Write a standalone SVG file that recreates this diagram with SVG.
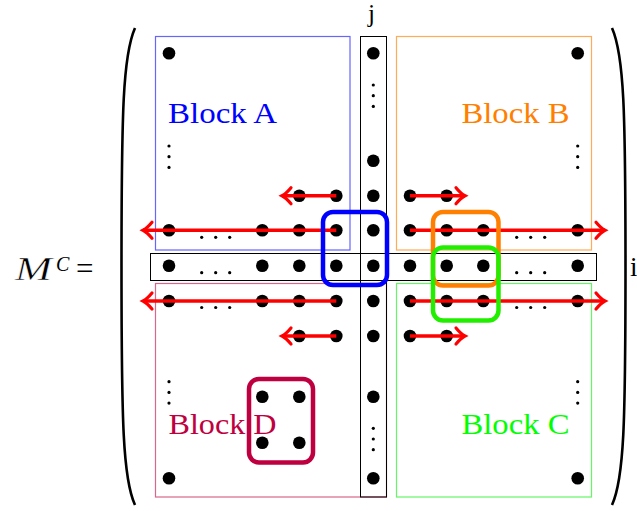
<svg xmlns="http://www.w3.org/2000/svg" width="637" height="511" viewBox="0 0 637 511">
<style>
.lbl{font-family:"Liberation Serif",serif;font-size:30px}
.m{font-family:"Liberation Serif",serif;font-style:italic}
.blk{fill:none;stroke-width:1.2}
.frame{fill:none;stroke:#000;stroke-width:1}
.dot{fill:#000}
.sel{fill:none;stroke-width:4.5}
.arr{stroke:#ff0000;stroke-width:3.4;fill:none;marker-end:url(#ah)}
.par{fill:none;stroke:#000;stroke-width:2.6}
</style>
<defs>
<marker id="ah" markerUnits="userSpaceOnUse" markerWidth="20" markerHeight="24" refX="2" refY="10" orient="auto" viewBox="-14 0 20 20">
<path d="M -7 2 Q -2 8 2 10 Q -2 12 -7 18" fill="none" stroke="#ff0000" stroke-width="3.2" stroke-linecap="round"/>
</marker>
<circle id="d" r="6.3"/>
<g id="ld"><circle cx="0" r="1.6"/><circle cx="14" r="1.6"/><circle cx="28" r="1.6"/></g>
<g id="vd"><circle cy="0" r="1.6"/><circle cy="10.7" r="1.6"/><circle cy="21.4" r="1.6"/></g>
</defs>
<rect width="637" height="511" fill="#fff"/>

<g id="math">
<text class="m" x="15" y="280" font-size="33" textLength="37" lengthAdjust="spacingAndGlyphs" stroke="#fff" stroke-width="0.45">M</text>
<text class="m" x="56" y="271" font-size="20">C</text>
<text x="76" y="279" font-family="Liberation Serif,serif" font-size="31">=</text>
</g>
<g id="parens">
<path class="par" d="M 135 28 C 123 55 121.5 110 121.5 267 C 121.5 424 123 479 135 505"/>
<path class="par" d="M 612 28 C 624 55 625.5 110 625.5 267 C 625.5 424 624 479 612 505"/>
</g>

<g id="blockA">
<rect class="blk" x="155.5" y="36.5" width="194.5" height="213.5" stroke="#0000ff" stroke-opacity="0.6"/>
<text class="lbl" x="168" y="123" fill="#0000ff" textLength="109" lengthAdjust="spacingAndGlyphs">Block A</text>
</g>
<g id="blockB">
<rect class="blk" x="396.5" y="36.5" width="195" height="213.5" stroke="#ff8000" stroke-opacity="0.65"/>
<text class="lbl" x="461.5" y="123" fill="#ff8000" textLength="108" lengthAdjust="spacingAndGlyphs">Block B</text>
</g>
<g id="blockC">
<rect class="blk" x="396.5" y="283.5" width="195" height="213.5" stroke="#00ee00" stroke-opacity="0.6"/>
<text class="lbl" x="461.5" y="434" fill="#00ff00" textLength="108" lengthAdjust="spacingAndGlyphs">Block C</text>
</g>
<g id="blockD">
<rect class="blk" x="155.5" y="283.5" width="231" height="213.5" stroke="#bf0040" stroke-opacity="0.6"/>
<text class="lbl" x="168.5" y="434" fill="#bf0040" textLength="108" lengthAdjust="spacingAndGlyphs">Block D</text>
</g>
<g id="colJ">
<rect class="frame" x="360.5" y="36.5" width="26" height="460.5"/>
<text x="368" y="22" font-family="Liberation Serif,serif" font-size="25">j</text>
</g>
<g id="rowI">
<rect class="frame" x="150.5" y="253.5" width="446" height="27"/>
<text x="630" y="276" font-family="Liberation Serif,serif" font-size="27">i</text>
</g>

<g id="dots" class="dot">
<use href="#d" x="169" y="53.3"/><use href="#d" x="373.3" y="53.3"/><use href="#d" x="577.7" y="53.3"/>
<use href="#vd" x="373.3" y="85"/>
<use href="#vd" x="169" y="146"/>
<use href="#vd" x="577.7" y="146"/>
<use href="#d" x="373.3" y="160.7"/>
<use href="#d" x="299.3" y="195.7"/><use href="#d" x="336.3" y="195.7"/><use href="#d" x="373.3" y="195.7"/><use href="#d" x="410" y="195.7"/><use href="#d" x="446.7" y="195.7"/>
<use href="#d" x="169" y="230.3"/><use href="#d" x="262.3" y="230.3"/><use href="#d" x="299.3" y="230.3"/><use href="#d" x="336.3" y="230.3"/><use href="#d" x="373.3" y="230.3"/><use href="#d" x="410" y="230.3"/><use href="#d" x="446.7" y="230.3"/><use href="#d" x="483.3" y="230.3"/><use href="#d" x="577.7" y="230.3"/>
<use href="#ld" x="201.7" y="237.3"/><use href="#ld" x="516.7" y="237.3"/>
<use href="#d" x="169" y="265.7"/><use href="#d" x="262.3" y="265.7"/><use href="#d" x="299.3" y="265.7"/><use href="#d" x="336.3" y="265.7"/><use href="#d" x="373.3" y="265.7"/><use href="#d" x="410" y="265.7"/><use href="#d" x="446.7" y="265.7"/><use href="#d" x="483.3" y="265.7"/><use href="#d" x="577.7" y="265.7"/>
<use href="#ld" x="201.7" y="272.7"/><use href="#ld" x="516.7" y="272.7"/>
<use href="#d" x="169" y="301"/><use href="#d" x="262.3" y="301"/><use href="#d" x="299.3" y="301"/><use href="#d" x="336.3" y="301"/><use href="#d" x="373.3" y="301"/><use href="#d" x="410" y="301"/><use href="#d" x="446.7" y="301"/><use href="#d" x="483.3" y="301"/><use href="#d" x="577.7" y="301"/>
<use href="#ld" x="201.7" y="307.5"/><use href="#ld" x="516.7" y="307.5"/>
<use href="#d" x="299.3" y="336"/><use href="#d" x="336.3" y="336"/><use href="#d" x="373.3" y="336"/><use href="#d" x="410" y="336"/><use href="#d" x="446.7" y="336"/>
<use href="#vd" x="169" y="381.7"/>
<use href="#vd" x="577.7" y="381.7"/>
<use href="#d" x="262.3" y="396.7"/><use href="#d" x="299.3" y="396.7"/><use href="#d" x="373.3" y="396.7"/>
<use href="#vd" x="373.3" y="428.3"/>
<use href="#d" x="262.3" y="442.7"/><use href="#d" x="299.3" y="442.7"/>
<use href="#d" x="169" y="478.3"/><use href="#d" x="373.3" y="478.3"/><use href="#d" x="577.7" y="478.3"/>
</g>

<g id="connectors">
<line class="arr" x1="336.3" y1="195.7" x2="282" y2="195.7"/>
<line class="arr" x1="410" y1="195.7" x2="465" y2="195.7"/>
<line class="arr" x1="336.3" y1="230.3" x2="143" y2="230.3"/>
<line class="arr" x1="410" y1="230.3" x2="605" y2="230.3"/>
<line class="arr" x1="336.3" y1="301" x2="143" y2="301"/>
<line class="arr" x1="410" y1="301" x2="605" y2="301"/>
<line class="arr" x1="336.3" y1="336" x2="282" y2="336"/>
<line class="arr" x1="410" y1="336" x2="465" y2="336"/>
</g>

<g id="selBlue"><rect class="sel" x="323" y="212" width="64" height="73" rx="10" stroke="#0000ff"/></g>
<g id="selOrange"><rect class="sel" x="433" y="212" width="65.5" height="73.5" rx="10" stroke="#ff8000"/></g>
<g id="selGreen"><rect class="sel" x="433" y="247.5" width="65.5" height="73" rx="10" stroke="#22ee00"/></g>
<g id="selD"><rect class="sel" x="249" y="379" width="64" height="83.5" rx="10" stroke="#bf0040"/></g>
</svg>
